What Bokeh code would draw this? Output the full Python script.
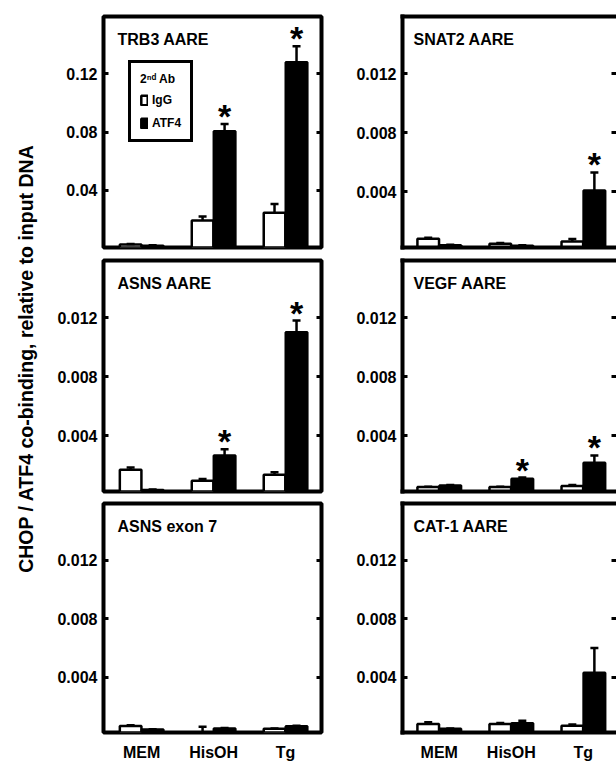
import math
from bokeh.plotting import figure
from bokeh.models import (Range1d, FixedTicker, LinearAxis, Whisker, TeeHead,
                          ColumnDataSource, Legend, LegendItem, Label)
from bokeh.layouts import row, column
from bokeh.core.properties import value
from bokeh.embed import file_html
from bokeh.resources import INLINE

FONT = "Liberation Sans"

# ---------------- data ----------------
groups = ["MEM", "HisOH", "Tg"]
y_title = "CHOP / ATF4 co-binding, relative to input DNA"
legend_title = "2\u207f\u1d48 Ab"
series_names = ["IgG", "ATF4"]

titles = ["TRB3 AARE", "SNAT2 AARE", "ASNS AARE", "VEGF AARE", "ASNS exon 7", "CAT-1 AARE"]

trb3_igg = [0.0030, 0.0195, 0.0248]
trb3_igg_err = [0.0004, 0.0027, 0.0060]
trb3_atf4 = [0.0022, 0.0805, 0.1277]
trb3_atf4_err = [0.0003, 0.0050, 0.0110]
trb3_star = [False, True, True]

snat2_igg = [0.00079, 0.00045, 0.00060]
snat2_igg_err = [0.00008, 0.00005, 0.00018]
snat2_atf4 = [0.00035, 0.00032, 0.00407]
snat2_atf4_err = [0.00003, 0.00003, 0.00123]
snat2_star = [False, False, True]

asns_igg = [0.00167, 0.00093, 0.00133]
asns_igg_err = [0.00016, 0.00012, 0.00017]
asns_atf4 = [0.00030, 0.00265, 0.01103]
asns_atf4_err = [0.00003, 0.00043, 0.00079]
asns_star = [False, True, True]

vegf_igg = [0.00050, 0.00050, 0.00057]
vegf_igg_err = [0.00003, 0.00003, 0.00008]
vegf_atf4 = [0.00060, 0.00106, 0.00215]
vegf_atf4_err = [0.00004, 0.00009, 0.00050]
vegf_star = [False, True, True]

exon7_igg = [0.00065, 0.00020, 0.00045]
exon7_igg_err = [0.00004, 0.00040, 0.00003]
exon7_atf4 = [0.00040, 0.00047, 0.00063]
exon7_atf4_err = [0.00003, 0.00003, 0.00003]
exon7_star = [False, False, False]

cat1_igg = [0.00079, 0.00079, 0.00067]
cat1_igg_err = [0.00011, 0.00006, 0.00008]
cat1_atf4 = [0.00045, 0.00083, 0.00430]
cat1_atf4_err = [0.00003, 0.00017, 0.00170]
cat1_star = [False, False, False]

big_ticks = [0.04, 0.08, 0.12]
big_tick_labels = ["0.04", "0.08", "0.12"]
small_ticks = [0.004, 0.008, 0.012]
small_tick_labels = ["0.004", "0.008", "0.012"]
big_range = (0.001, 0.159)
small_range = (0.0002, 0.0159)

panels = [
    (trb3_igg, trb3_igg_err, trb3_atf4, trb3_atf4_err, trb3_star, big_range, big_ticks, big_tick_labels),
    (snat2_igg, snat2_igg_err, snat2_atf4, snat2_atf4_err, snat2_star, small_range, small_ticks, small_tick_labels),
    (asns_igg, asns_igg_err, asns_atf4, asns_atf4_err, asns_star, small_range, small_ticks, small_tick_labels),
    (vegf_igg, vegf_igg_err, vegf_atf4, vegf_atf4_err, vegf_star, small_range, small_ticks, small_tick_labels),
    (exon7_igg, exon7_igg_err, exon7_atf4, exon7_atf4_err, exon7_star, small_range, small_ticks, small_tick_labels),
    (cat1_igg, cat1_igg_err, cat1_atf4, cat1_atf4_err, cat1_star, small_range, small_ticks, small_tick_labels),
]

# ---------------- layout constants ----------------
LAB_W = 48
COL_W = [299, 269]
COL_BL = [55, 55]
COL_BR = [26, 0]
COL_XR = [(-0.53, 2.5), (-0.51, 2.46)]
ROW_H = [252, 245, 266]
ROW_TOP = [16, 8, 6]
ROW_BOT = [5, 6, 29]
OFF = 0.153
BAR_W = 0.30
LW = 4


def style_ticks(ax, labels_on, tick_font="16px"):
    ax.major_tick_in = 5
    ax.major_tick_out = 0
    ax.major_tick_line_width = 3
    ax.major_tick_line_color = "black"
    ax.minor_tick_line_color = None
    ax.major_label_text_font = FONT
    ax.major_label_text_font_style = "bold"
    if labels_on:
        ax.major_label_text_color = "black"
        ax.major_label_text_font_size = tick_font
        ax.major_label_standoff = 6
    else:
        ax.major_label_text_color = None
        ax.major_label_text_font_size = "1px"
        ax.major_label_standoff = 0


def make_panel(idx):
    r, c = idx // 2, idx % 2
    igg, igg_err, atf, atf_err, star, yr, ticks, tlabels = panels[idx]
    p = figure(width=COL_W[c], height=ROW_H[r],
               x_range=Range1d(*COL_XR[c]), y_range=Range1d(*yr),
               toolbar_location=None, output_backend="svg",
               min_border_left=COL_BL[c], min_border_right=COL_BR[c],
               min_border_top=ROW_TOP[r], min_border_bottom=ROW_BOT[r],
               background_fill_color="white", border_fill_color="white")
    p.grid.visible = False

    # y axis (left)
    yax = p.yaxis[0]
    yax.ticker = FixedTicker(ticks=ticks)
    yax.major_label_overrides = {t: l for t, l in zip(ticks, tlabels)}
    style_ticks(yax, True)

    # right axis (ticks only)
    rax = LinearAxis(ticker=FixedTicker(ticks=ticks))
    style_ticks(rax, False)
    rax.axis_line_color = None
    p.add_layout(rax, "right")

    # x axis
    xax = p.xaxis[0]
    xax.ticker = FixedTicker(ticks=[0, 1, 2])
    xax.major_label_overrides = {i: g for i, g in enumerate(groups)}
    xax.major_tick_line_color = None
    xax.minor_tick_line_color = None
    xax.major_tick_in = 0
    xax.major_tick_out = 0
    xax.major_label_text_font = FONT
    xax.major_label_text_font_style = "bold"
    if r == 2:
        xax.major_label_text_color = "black"
        xax.major_label_text_font_size = "16px"
        xax.major_label_standoff = 11
    else:
        xax.major_label_text_color = None
        xax.major_label_text_font_size = "1px"
        xax.major_label_standoff = 0

    if c == 0:
        p.outline_line_color = "black"
        p.outline_line_width = LW
        yax.axis_line_color = None
        xax.axis_line_color = None
        if r != 2:
            xax.visible = False
    else:
        p.outline_line_color = None
        for ax in (yax, xax):
            ax.axis_line_color = "black"
            ax.axis_line_width = LW
            ax.axis_line_cap = "square"
        tax = LinearAxis(ticker=FixedTicker(ticks=[]), axis_line_width=LW,
                         axis_line_color="black", axis_line_cap="square",
                         major_tick_in=0, major_tick_out=0,
                         major_label_text_color=None,
                         major_label_text_font_size="1px", major_label_standoff=0)
        p.add_layout(tax, "above")

    xi = [i - OFF for i in range(len(groups))]
    xa = [i + OFF for i in range(len(groups))]
    r_igg = p.vbar(x=xi, top=igg, bottom=0, width=BAR_W, fill_color="white",
                   line_color="black", line_width=2.5)
    r_atf = p.vbar(x=xa, top=atf, bottom=0, width=BAR_W, fill_color="black",
                   line_color="black", line_width=2.5)

    src = ColumnDataSource(dict(
        base=xi + xa,
        lower=list(igg) + list(atf),
        upper=[v + e for v, e in zip(igg, igg_err)] + [v + e for v, e in zip(atf, atf_err)]))
    p.add_layout(Whisker(source=src, base="base", lower="lower", upper="upper",
                         dimension="height", line_width=2.5, line_color="black",
                         upper_head=TeeHead(size=8, line_width=2.5, line_color="black"),
                         lower_head=None, level="glyph"))

    sx = [xa[i] for i in range(3) if star[i]]
    sy = [atf[i] + atf_err[i] for i in range(3) if star[i]]
    if sx:
        p.text(x=sx, y=sy, text=["*"] * len(sx), text_align="center",
               text_baseline="alphabetic", y_offset=-8,
               text_font=value(FONT), text_font_style="bold",
               text_font_size="34px", text_color="black")

    p.add_layout(Label(x=COL_XR[c][0], y=yr[1], x_offset=(14 if c == 0 else 11),
                       y_offset=-14,
                       text=titles[idx], text_baseline="top", text_align="left",
                       text_font=FONT, text_font_style="bold",
                       text_font_size="16px", text_color="black"))

    if idx == 0:
        leg = Legend(items=[LegendItem(label=series_names[0], renderers=[r_igg]),
                            LegendItem(label=series_names[1], renderers=[r_atf])],
                     location=(25, 105), title=legend_title,
                     title_text_font=FONT, title_text_font_style="bold",
                     title_text_font_size="12px", title_text_color="black",
                     title_standoff=7,
                     label_text_font=FONT, label_text_font_style="bold",
                     label_text_font_size="12px", label_text_color="black",
                     label_standoff=4,
                     label_height=13, glyph_width=8, glyph_height=12,
                     spacing=9, padding=9, margin=0,
                     border_line_color="black", border_line_width=3,
                     border_line_alpha=1.0,
                     background_fill_color="white", background_fill_alpha=1.0)
        p.add_layout(leg)
    return p


figs = [make_panel(i) for i in range(6)]

total_h = sum(ROW_H)
lab = figure(width=LAB_W, height=total_h, x_range=Range1d(0, 1), y_range=Range1d(0, 1),
             toolbar_location=None, output_backend="svg", min_border=0,
             background_fill_color="white", border_fill_color="white")
lab.outline_line_color = None
lab.axis.visible = False
lab.grid.visible = False
lab.add_layout(Label(x=25 / LAB_W, y=1 - 358 / total_h, angle=math.pi / 2, text=y_title,
                     text_align="center", text_baseline="middle",
                     text_font=FONT, text_font_style="bold",
                     text_font_size="19.5px", text_color="black"))

layout = row(lab,
             column(figs[0], figs[2], figs[4]),
             column(figs[1], figs[3], figs[5]))

open("out.html", "w").write(file_html(layout, INLINE))
